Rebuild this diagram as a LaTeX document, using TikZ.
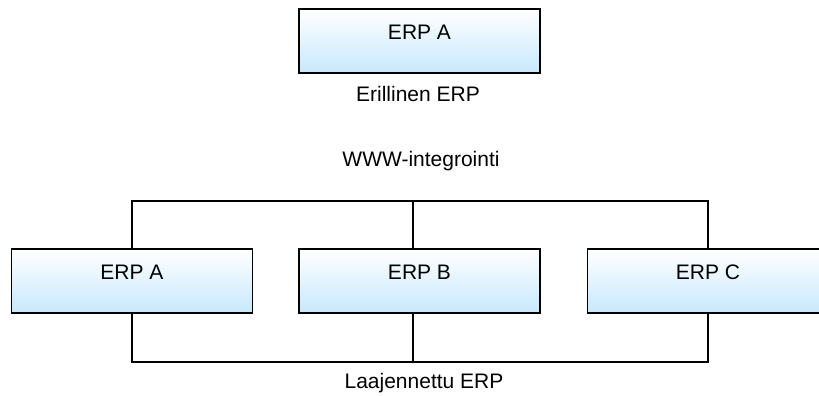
\documentclass[tikz,border=0pt]{standalone}
\usepackage{fontspec}
\setmainfont{Liberation Sans}
\definecolor{erpblue}{RGB}{198,232,252}
\definecolor{erpmid}{RGB}{236,247,254}
\begin{document}
\begin{tikzpicture}[x=1pt,y=-1pt,
  erp/.style={draw, line width=1.6pt, minimum width=241pt, minimum height=64pt,
    inner sep=0pt, top color=white, middle color=erpmid, bottom color=erpblue,
    font=\fontsize{21}{24}\selectfont, text height=14pt, text depth=17.5pt},
  caption/.style={anchor=base, inner sep=0pt, font=\fontsize{21}{24}\selectfont},
  wire/.style={line width=1.6pt}]
\useasboundingbox (0,0) rectangle (819,396);
\clip (0,0) rectangle (819,396);

% stand-alone system
\node[erp] (solo) at (419.5,41) {ERP A};
\node[caption] (soloLbl) at (418,101.5) {Erillinen ERP};

% integrated systems
\node[caption] (webLbl) at (421,166.5) {WWW-integrointi};
\node[erp] (a) at (132,281) {ERP A};
\node[erp] (b) at (419.5,281) {ERP B};
\node[erp] (c) at (708,281) {ERP C};
\node[caption] (extLbl) at (424,388) {Laajennettu ERP};

\coordinate (topbar) at (0,201);
\coordinate (botbar) at (0,362);
\coordinate (bTop) at ([xshift=-6.5pt]b.north);
\coordinate (bBot) at ([xshift=-6.5pt]b.south);

% upper bus
\draw[wire] (a.north) |- (topbar -| c.north) -- (c.north);
\draw[wire] (bTop) -- (topbar -| bTop);
% lower bus
\draw[wire] (a.south) |- (botbar -| c.south) -- (c.south);
\draw[wire] (bBot) -- (botbar -| bBot);
\end{tikzpicture}
\end{document}
